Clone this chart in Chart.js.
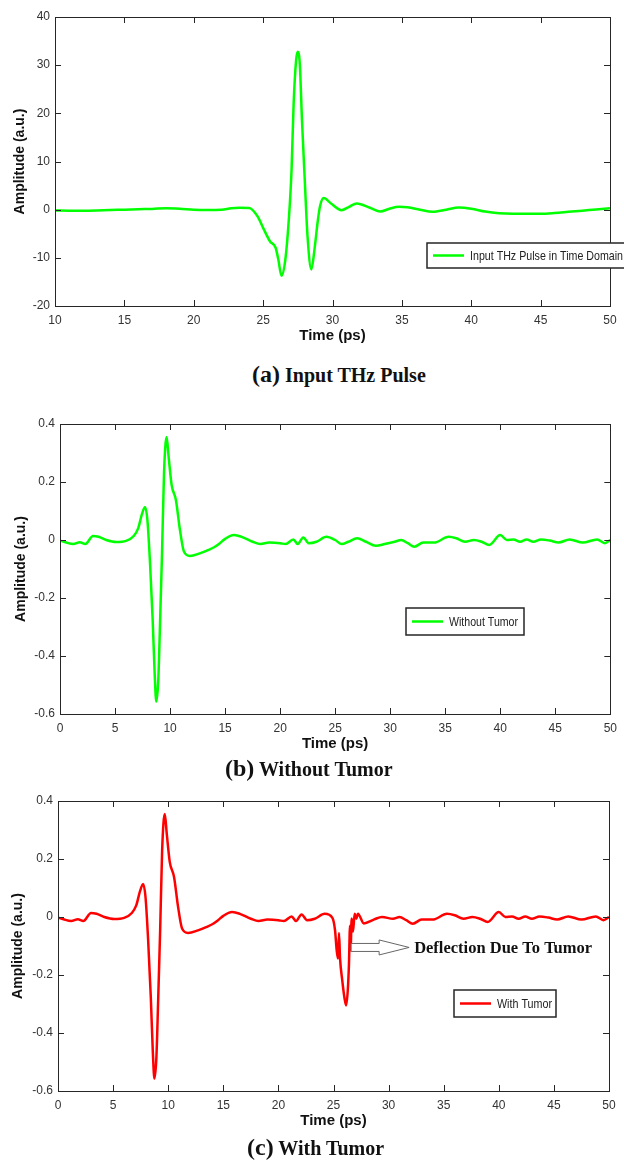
<!DOCTYPE html>
<html>
<head>
<meta charset="utf-8">
<script src="https://cdn.jsdelivr.net/npm/chart.js@4/dist/chart.umd.min.js"></script>
<style>
  body { margin: 0; width: 624px; height: 1161px; background: #fff; position: relative; overflow: hidden; }
  canvas { position: absolute; left: 0; }
  .cap { position: absolute; font-family: 'Liberation Serif', 'Times New Roman', serif; font-weight: bold; font-size: 20px; line-height: 24px; color: #111; white-space: nowrap; }
  .cap span { font-size: 24px; }
</style>
</head>
<body>
<canvas id="chartA" width="624" height="350" style="top:0px"></canvas>
<canvas id="chartB" width="624" height="360" style="top:395px"></canvas>
<canvas id="chartC" width="624" height="360" style="top:775px"></canvas>
<div class="cap" style="left:252px; top:362px"><span>(a)</span> Input THz Pulse</div>
<div class="cap" style="left:225px; top:756px"><span>(b)</span> Without Tumor</div>
<div class="cap" style="left:247px; top:1135px"><span>(c)</span> With Tumor</div>
<script>
// (a) input pulse, time in ps
const aTime = [10, 11, 12, 13, 14, 15, 16, 17, 18, 19, 20, 21, 22, 22.7, 23.3, 24, 24.6, 25.05, 25.5, 25.9, 26.1, 26.32, 26.6, 26.85, 27.05, 27.2, 27.38, 27.5, 27.64, 27.8, 28, 28.2, 28.48, 28.7, 28.95, 29.1, 29.37, 29.85, 30.65, 31.2, 31.75, 32.7, 33.45, 34.1, 34.8, 35.4, 36.3, 37.2, 38.2, 39.1, 40, 41, 42, 43, 44, 45, 46, 47, 48, 49, 50];
const aAmp = [-0.15, -0.2, -0.2, -0.15, -0.05, 0, 0.1, 0.15, 0.3, 0.2, 0, -0.05, 0, 0.3, 0.4, 0.35, -1.4, -4.1, -6.6, -7.9, -10.4, -13.7, -10.4, -2.1, 8.3, 22.1, 31.1, 32.8, 30.4, 18.6, 6.2, -5.5, -12.4, -8.3, -2.1, 0.7, 2.4, 1.4, -0.1, 0.6, 1.3, 0.4, -0.4, 0.2, 0.6, 0.5, 0.0, -0.45, 0.0, 0.45, 0.2, -0.4, -0.75, -0.85, -0.85, -0.85, -0.7, -0.45, -0.2, 0.05, 0.3];

// (b) without tumor
const bTime = [0, 0.5, 1.2, 1.8, 2.3, 3.0, 3.5, 4.2, 5.1, 6, 6.7, 7.1, 7.45, 7.73, 7.94, 8.18, 8.42, 8.6, 8.75, 8.93, 9.08, 9.27, 9.45, 9.69, 9.87, 10.14, 10.53, 10.9, 11.26, 11.8, 12.7, 13.5, 14, 14.5, 15, 15.8, 16.5, 17.5, 18.2, 19, 20, 20.5, 21.2, 21.6, 22.1, 22.6, 23.3, 24.2, 25, 25.6, 26.2, 27, 27.8, 28.7, 29.5, 30.4, 31, 31.6, 32.2, 33, 34, 35.3, 36, 36.8, 37.6, 38.3, 39, 40, 40.6, 41.2, 41.8, 42.4, 43, 43.7, 44.5, 45.3, 46.3, 47.5, 48.8, 49.5, 50];
const bAmp = [-0.002, -0.008, -0.014, -0.008, -0.014, 0.014, 0.011, 0.0, -0.007, -0.003, 0.014, 0.04, 0.09, 0.114, 0.069, -0.08, -0.276, -0.46, -0.557, -0.483, -0.299, -0.046, 0.23, 0.355, 0.287, 0.19, 0.138, 0.034, -0.04, -0.055, -0.046, -0.034, -0.025, -0.012, 0.004, 0.017, 0.011, -0.006, -0.014, -0.009, -0.011, -0.014, 0.002, -0.014, 0.009, -0.011, -0.006, 0.011, 0, -0.014, -0.006, 0.006, -0.006, -0.02, -0.014, -0.006, 0, -0.011, -0.023, -0.009, -0.009, 0.011, 0.006, -0.006, 0, -0.006, -0.017, 0.017, 0, 0.002, -0.006, 0.002, -0.006, 0.002, -0.002, -0.009, 0.002, -0.009, 0.002, -0.011, 0];

// (c) with tumor
const cTime = [0, 0.5, 1.2, 1.8, 2.3, 3.0, 3.5, 4.2, 5.1, 6, 6.7, 7.1, 7.45, 7.73, 7.94, 8.18, 8.42, 8.6, 8.75, 8.93, 9.08, 9.27, 9.45, 9.69, 9.87, 10.14, 10.53, 10.9, 11.26, 11.8, 12.7, 13.5, 14, 14.5, 15, 15.8, 16.5, 17.5, 18.2, 19, 20, 20.5, 21.2, 21.6, 22.1, 22.6, 23.3, 24.2, 24.9, 25.14, 25.29, 25.41, 25.5, 25.59, 25.8, 26.0, 26.15, 26.3, 26.4, 26.5, 26.55, 26.65, 26.77, 26.92, 27.07, 27.22, 27.75, 28.7, 29.4, 30.4, 31, 31.6, 32.2, 33, 34, 35.3, 36, 36.8, 37.6, 38.3, 39, 40, 40.6, 41.2, 41.8, 42.4, 43, 43.7, 44.5, 45.3, 46.3, 47.5, 48.8, 49.5, 50];
const cAmp = [-0.002, -0.008, -0.014, -0.008, -0.014, 0.014, 0.011, 0.0, -0.007, -0.003, 0.014, 0.04, 0.09, 0.114, 0.069, -0.08, -0.276, -0.46, -0.557, -0.483, -0.299, -0.046, 0.23, 0.355, 0.287, 0.19, 0.138, 0.034, -0.04, -0.055, -0.046, -0.034, -0.025, -0.012, 0.004, 0.017, 0.011, -0.006, -0.014, -0.009, -0.011, -0.014, 0.002, -0.014, 0.009, -0.011, -0.006, 0.011, -0.003, -0.046, -0.115, -0.143, -0.055, -0.14, -0.22, -0.28, -0.305, -0.25, -0.166, -0.03, -0.115, -0.005, -0.05, 0.011, -0.006, 0.011, -0.022, -0.008, 0, -0.006, 0, -0.011, -0.023, -0.009, -0.009, 0.011, 0.006, -0.006, 0, -0.006, -0.017, 0.017, 0, 0.002, -0.006, 0.002, -0.006, 0.002, -0.002, -0.009, 0.002, -0.009, 0.002, -0.011, 0];

const tickFont = { family: "'Liberation Sans', Arial, sans-serif", size: 12 };
const frameColor = '#262626';

// MATLAB style box with inward ticks on all four sides
const framePlugin = {
    id: 'frame',
    afterDraw(chart) {
        const { ctx, chartArea: a, scales: { x, y } } = chart;
        const len = 6;
        ctx.save();
        ctx.strokeStyle = frameColor;
        ctx.lineWidth = 1;
        ctx.strokeRect(Math.round(a.left) + 0.5, Math.round(a.top) + 0.5, Math.round(a.width), Math.round(a.height));
        ctx.beginPath();
        x.ticks.forEach(t => {
            const px = Math.round(x.getPixelForValue(t.value)) + 0.5;
            ctx.moveTo(px, a.bottom); ctx.lineTo(px, a.bottom - len);
            ctx.moveTo(px, a.top); ctx.lineTo(px, a.top + len);
        });
        y.ticks.forEach(t => {
            const py = Math.round(y.getPixelForValue(t.value)) + 0.5;
            ctx.moveTo(a.left, py); ctx.lineTo(a.left + len, py);
            ctx.moveTo(a.right, py); ctx.lineTo(a.right - len, py);
        });
        ctx.stroke();
        ctx.restore();
    }
};

// boxed legend placed inside the plot; text squeezed to the width seen in the figure
const boxLegendPlugin = {
    id: 'boxLegend',
    afterDraw(chart, args, opts) {
        if (!opts || opts.width === undefined) return;
        const { ctx } = chart;
        const ds = chart.data.datasets[0];
        ctx.save();
        ctx.fillStyle = '#fff';
        ctx.fillRect(opts.left, opts.top, opts.width, opts.height);
        ctx.strokeStyle = frameColor;
        ctx.lineWidth = 1.5;
        ctx.strokeRect(opts.left, opts.top, opts.width, opts.height);
        const midY = opts.top + opts.height / 2;
        ctx.strokeStyle = ds.borderColor;
        ctx.lineWidth = 2.5;
        ctx.beginPath();
        ctx.moveTo(opts.left + 6, midY);
        ctx.lineTo(opts.left + 37, midY);
        ctx.stroke();
        ctx.fillStyle = '#222';
        ctx.font = "13px 'Liberation Sans', Arial, sans-serif";
        ctx.textBaseline = 'middle';
        ctx.fillText(ds.label, opts.left + 43, midY + 0.5, opts.textWidth);
        ctx.restore();
    }
};

// hollow arrow + note, anchored to data coordinates
const notePlugin = {
    id: 'note',
    afterDraw(chart, args, opts) {
        if (!opts || !opts.text) return;
        const { ctx, scales: { x, y } } = chart;
        const x0 = x.getPixelForValue(opts.at[0]);
        const y0 = y.getPixelForValue(opts.at[1]);
        const shaft = 28, head = 30, sh = 4, hh = 7.5;
        ctx.save();
        ctx.fillStyle = '#fff';
        ctx.strokeStyle = '#666';
        ctx.lineWidth = 1;
        ctx.beginPath();
        ctx.moveTo(x0, y0 - sh);
        ctx.lineTo(x0 + shaft, y0 - sh);
        ctx.lineTo(x0 + shaft, y0 - hh);
        ctx.lineTo(x0 + shaft + head, y0);
        ctx.lineTo(x0 + shaft, y0 + hh);
        ctx.lineTo(x0 + shaft, y0 + sh);
        ctx.lineTo(x0, y0 + sh);
        ctx.closePath();
        ctx.fill();
        ctx.stroke();
        ctx.fillStyle = '#111';
        ctx.font = "bold 16.5px 'Liberation Serif', 'Times New Roman', serif";
        ctx.textBaseline = 'alphabetic';
        ctx.fillText(opts.text, x0 + shaft + head + 5, y0 + 5.5);
        ctx.restore();
    }
};

function makeChart(id, cfg) {
    const fmt = v => Number(Number(v).toFixed(cfg.dec)).toString();
    return new Chart(document.getElementById(id), {
        type: 'line',
        data: {
            datasets: [{
                label: cfg.label,
                data: cfg.xs.map((t, i) => ({ x: t, y: cfg.ys[i] })),
                borderColor: cfg.color,
                borderWidth: 2.5,
                pointRadius: 0,
                fill: false,
                cubicInterpolationMode: 'monotone'
            }]
        },
        options: {
            responsive: false,
            animation: false,
            layout: { padding: { top: cfg.pad.top, right: cfg.pad.right, left: 0, bottom: 0 } },
            scales: {
                x: {
                    type: 'linear',
                    min: cfg.xMin, max: cfg.xMax,
                    ticks: { stepSize: 5, padding: 7, font: tickFont, color: '#333', maxRotation: 0 },
                    grid: { display: false, drawTicks: false },
                    border: { display: false },
                    title: {
                        display: true, text: 'Time (ps)', color: '#111',
                        font: { family: "'Liberation Sans', Arial, sans-serif", weight: 'bold', size: 15 },
                        padding: { top: 0, bottom: cfg.xTitlePad }
                    },
                    afterFit: s => { s.height = cfg.xHeight; }
                },
                y: {
                    min: cfg.yMin, max: cfg.yMax,
                    ticks: { stepSize: cfg.yStep, padding: 5, font: tickFont, color: '#333', callback: fmt },
                    grid: { display: false, drawTicks: false },
                    border: { display: false },
                    title: {
                        display: true, text: 'Amplitude (a.u.)', color: '#111',
                        font: { family: "'Liberation Sans', Arial, sans-serif", weight: 'bold', size: 14 },
                        padding: { top: cfg.yTitlePad, bottom: 0 }
                    },
                    afterFit: s => { s.width = cfg.yWidth; }
                }
            },
            plugins: {
                legend: { display: false },
                tooltip: { enabled: false },
                boxLegend: cfg.legend,
                note: cfg.note || {}
            }
        },
        plugins: [framePlugin, boxLegendPlugin, notePlugin]
    });
}

makeChart('chartA', {
    label: 'Input THz Pulse in Time Domain', color: '#00ff00',
    xs: aTime, ys: aAmp, xMin: 10, xMax: 50, yMin: -20, yMax: 40, yStep: 10, dec: 0,
    pad: { top: 17, right: 14 }, yWidth: 55, xHeight: 44, xTitlePad: 5, yTitlePad: 12,
    legend: { left: 427, top: 243, width: 205, height: 25, textWidth: 153 }
});

makeChart('chartB', {
    label: 'Without Tumor', color: '#00ff00',
    xs: bTime, ys: bAmp, xMin: 0, xMax: 50, yMin: -0.6, yMax: 0.4, yStep: 0.2, dec: 1,
    pad: { top: 29, right: 12 }, yWidth: 60, xHeight: 41, xTitlePad: 2, yTitlePad: 13,
    legend: { left: 406, top: 213, width: 118, height: 27, textWidth: 69 }
});

makeChart('chartC', {
    label: 'With Tumor', color: '#ff0000',
    xs: cTime, ys: cAmp, xMin: 0, xMax: 50, yMin: -0.6, yMax: 0.4, yStep: 0.2, dec: 1,
    pad: { top: 26, right: 15 }, yWidth: 58, xHeight: 44, xTitlePad: 5, yTitlePad: 10,
    legend: { left: 454, top: 215, width: 102, height: 27, textWidth: 55 },
    note: { text: 'Deflection Due To Tumor', at: [26.6, -0.105] }
});
</script>
</body>
</html>
